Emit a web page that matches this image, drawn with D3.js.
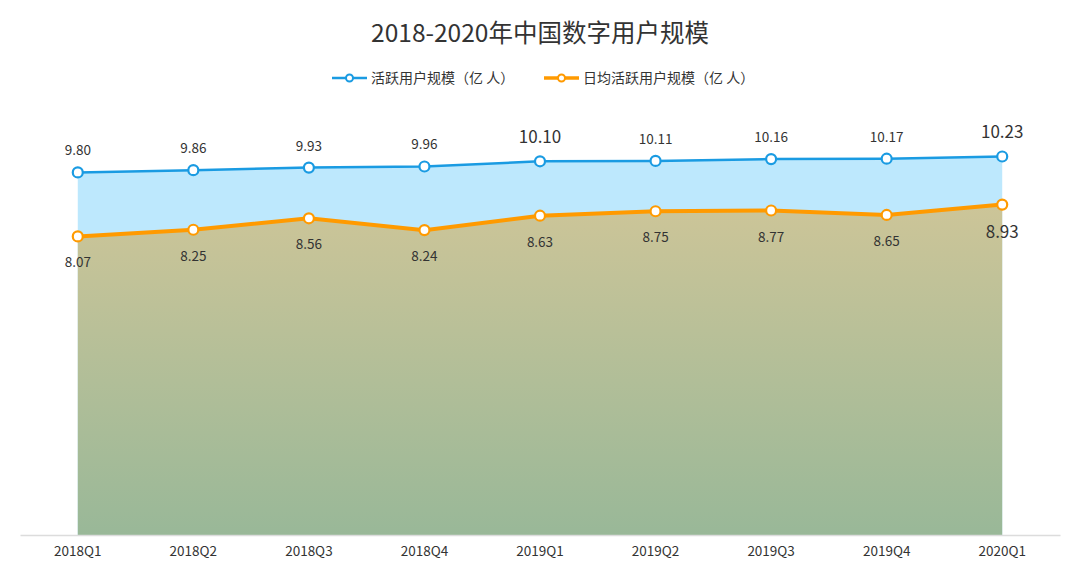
<!DOCTYPE html>
<html lang="zh">
<head>
<meta charset="UTF-8">
<title>2018-2020年中国数字用户规模</title>
<script src="https://d3js.org/d3.v7.min.js"></script>
<style>
  body { margin: 0; background: #fff; }
  svg { display: block; font-family: "Noto Sans CJK SC", "Noto Sans", sans-serif; }
</style>
</head>
<body>
<div id="chart"></div>
<script>
  // data
  const quarters = ["2018Q1", "2018Q2", "2018Q3", "2018Q4", "2019Q1", "2019Q2", "2019Q3", "2019Q4", "2020Q1"];
  const activeUsers = [9.80, 9.86, 9.93, 9.96, 10.10, 10.11, 10.16, 10.17, 10.23];
  const dailyActiveUsers = [8.07, 8.25, 8.56, 8.24, 8.63, 8.75, 8.77, 8.65, 8.93];
  const seriesNames = ["活跃用户规模（亿 人）", "日均活跃用户规模（亿 人）"];
  // labels drawn with the bigger font
  const bigLabels = { active: ["2019Q1", "2020Q1"], daily: ["2020Q1"] };

  const width = 1080, height = 570;
  const margin = { top: 91, right: 20, bottom: 35, left: 20 };

  const svg = d3.select("#chart").append("svg")
    .attr("width", width)
    .attr("height", height);

  const x = d3.scaleBand()
    .domain(quarters)
    .range([margin.left, width - margin.right]);

  const y = d3.scaleLinear()
    .domain([0, 12])
    .range([height - margin.bottom, margin.top]);

  const cx = d => x(d) + x.bandwidth() / 2;

  // gradient for the lower area
  const defs = svg.append("defs");
  const grad = defs.append("linearGradient")
    .attr("id", "dailyGrad")
    .attr("gradientUnits", "userSpaceOnUse")
    .attr("x1", 0).attr("x2", 0)
    .attr("y1", y(9)).attr("y2", y(0));
  grad.append("stop").attr("offset", "0%").attr("stop-color", "#cdc598");
  grad.append("stop").attr("offset", "100%").attr("stop-color", "#99b898");

  const area = vals => d3.area()
    .x((d, i) => cx(quarters[i]))
    .y0(y(0))
    .y1(d => y(d))(vals);

  const line = vals => d3.line()
    .x((d, i) => cx(quarters[i]))
    .y(d => y(d))(vals);

  svg.append("path").attr("d", area(activeUsers)).attr("fill", "#bde8fd");
  svg.append("path").attr("d", area(dailyActiveUsers)).attr("fill", "url(#dailyGrad)");

  // x axis
  const xAxis = svg.append("g")
    .attr("transform", `translate(0,${y(0)})`)
    .call(d3.axisBottom(x).tickSize(0).tickPadding(11));
  xAxis.select(".domain").attr("stroke", "#dcdcdc").attr("stroke-width", 1.5);
  xAxis.selectAll("text")
    .attr("font-size", 13.5)
    .attr("fill", "#333")
    .attr("font-family", "'Noto Sans CJK SC', sans-serif");

  // lines
  svg.append("path").attr("d", line(activeUsers))
    .attr("fill", "none").attr("stroke", "#1a9be2").attr("stroke-width", 2.5);
  svg.append("path").attr("d", line(dailyActiveUsers))
    .attr("fill", "none").attr("stroke", "#ff9a00").attr("stroke-width", 4);

  // markers
  function markers(vals, color) {
    svg.append("g").selectAll("circle")
      .data(vals)
      .join("circle")
      .attr("cx", (d, i) => cx(quarters[i]))
      .attr("cy", d => y(d))
      .attr("r", 5)
      .attr("fill", "#fff")
      .attr("stroke", color)
      .attr("stroke-width", 2.2);
  }
  markers(activeUsers, "#1a9be2");
  markers(dailyActiveUsers, "#ff9a00");

  // value labels
  svg.append("g").selectAll("text")
    .data(activeUsers)
    .join("text")
    .attr("x", (d, i) => cx(quarters[i]))
    .attr("y", (d, i) => y(d) - (bigLabels.active.includes(quarters[i]) ? 18 : 17))
    .attr("text-anchor", "middle")
    .attr("font-size", (d, i) => bigLabels.active.includes(quarters[i]) ? 17 : 13.5)
    .attr("fill", "#333")
    .text(d => d.toFixed(2));

  svg.append("g").selectAll("text")
    .data(dailyActiveUsers)
    .join("text")
    .attr("x", (d, i) => cx(quarters[i]))
    .attr("y", (d, i) => y(d) + (bigLabels.daily.includes(quarters[i]) ? 33 : 31))
    .attr("text-anchor", "middle")
    .attr("font-size", (d, i) => bigLabels.daily.includes(quarters[i]) ? 17 : 13.5)
    .attr("fill", "#333")
    .text(d => d.toFixed(2));

  // title
  svg.append("text")
    .attr("x", width / 2)
    .attr("y", 42)
    .attr("text-anchor", "middle")
    .attr("font-size", 24.5)
    .attr("fill", "#333")
    .text("2018-2020年中国数字用户规模");

  // legend
  const legend = [
    { name: seriesNames[0], color: "#1a9be2", x: 332, w: 2.5 },
    { name: seriesNames[1], color: "#ff9a00", x: 544, w: 3.5 }
  ];
  const lg = svg.append("g").selectAll("g")
    .data(legend)
    .join("g")
    .attr("transform", d => `translate(${d.x},78)`);
  lg.append("line")
    .attr("x1", 0).attr("x2", 35)
    .attr("stroke", d => d.color).attr("stroke-width", d => d.w);
  lg.append("circle")
    .attr("cx", 17.5).attr("r", 3.5)
    .attr("fill", "#fff").attr("stroke", d => d.color).attr("stroke-width", 2);
  lg.append("text")
    .attr("x", 39).attr("y", 5)
    .attr("font-size", 14)
    .attr("fill", "#333")
    .text(d => d.name);
</script>
</body>
</html>
